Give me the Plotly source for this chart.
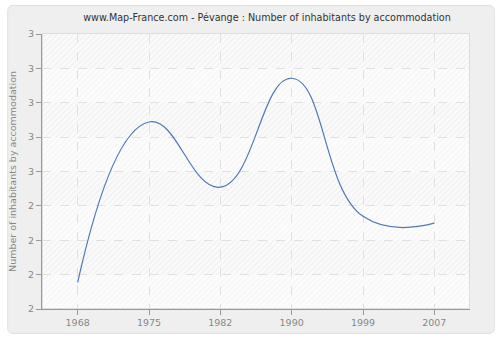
import base64
import plotly.graph_objects as go

years = ["1968", "1975", "1982", "1990", "1999", "2007"]
values = [2.097, 2.680, 2.443, 2.839, 2.337, 2.312]
y_ticks = [2.0, 2.125, 2.25, 2.375, 2.5, 2.625, 2.75, 2.875, 3.0]
y_tick_labels = ["2", "2", "2", "2", "3", "3", "3", "3", "3"]

title = "www.Map-France.com - Pévange : Number of inhabitants by accommodation"
ytitle = "Number of inhabitants by accommodation"

W, H = 500, 340
L, R, T, B = 40, 30, 34, 30
pw, ph = W - L - R, H - T - B

# panel box (page pixels)
PX0, PY0, PX1, PY1 = 5, 5, 495, 335
iw, ih = PX1 - PX0, PY1 - PY0
ax0, ay0 = L - PX0, T - PY0  # plot area origin inside the image

nb = len(y_ticks) - 1
bh = ph / nb
bands = "".join(
    f'<rect x="{ax0}" y="{ay0 + i * bh:.2f}" width="{pw}" height="{bh:.2f}" fill="url(#hs)"/>'
    for i in range(0, nb, 2)
)
svg = f'''<svg xmlns="http://www.w3.org/2000/svg" width="{iw}" height="{ih}" viewBox="0 0 {iw} {ih}">
<defs>
<pattern id="hw" width="4" height="4" patternUnits="userSpaceOnUse" patternTransform="rotate(45)">
<rect width="4" height="4" fill="#fcfcfc"/><line x1="0" y1="0" x2="0" y2="4" stroke="#f1f1f1" stroke-width="1.2"/>
</pattern>
<pattern id="hs" width="4" height="4" patternUnits="userSpaceOnUse" patternTransform="rotate(45)">
<rect width="4" height="4" fill="#fafafa"/><line x1="0" y1="0" x2="0" y2="4" stroke="#e9e9e9" stroke-width="1.3"/>
</pattern>
</defs>
<rect x="0.5" y="0.5" width="{iw - 1}" height="{ih - 1}" rx="5" ry="5" fill="#efefef" stroke="#dddddd" stroke-width="1"/>
<rect x="{ax0}" y="{ay0}" width="{pw}" height="{ph}" fill="url(#hw)"/>
{bands}
<rect x="{ax0 + 0.5}" y="{ay0 - 0.5}" width="{pw - 1}" height="{ph}" fill="none" stroke="#dedede" stroke-width="1"/>
</svg>'''
bg_uri = "data:image/svg+xml;base64," + base64.b64encode(svg.encode()).decode()

fig = go.Figure()
fig.add_trace(go.Scatter(
    x=years, y=values, mode="lines",
    line=dict(color="#4f79b4", width=1.2, shape="spline", smoothing=1.3),
    hoverinfo="skip", showlegend=False,
))

font = "DejaVu Sans"
fig.update_layout(
    width=W, height=H,
    margin=dict(l=L, r=R, t=T, b=B),
    paper_bgcolor="#ffffff",
    plot_bgcolor="rgba(0,0,0,0)",
    title=dict(text=title, x=267 / W, xanchor="center", xref="container",
               y=1 - 18 / H, yanchor="middle",
               font=dict(family=font, size=9.6, color="#333333")),
    font=dict(family=font, size=10, color="#888888"),
    xaxis=dict(
        type="category", range=[-0.5, 5.5],
        showline=True, linecolor="#999999", linewidth=1,
        ticks="outside", ticklen=5, tickcolor="#999999",
        showgrid=True, gridcolor="#e0e0e0", griddash="dash", gridwidth=1,
        tickfont=dict(family=font, size=9.5, color="#888888"),
        zeroline=False, fixedrange=True,
    ),
    yaxis=dict(
        range=[2.0, 3.0],
        tickvals=y_ticks, ticktext=y_tick_labels,
        showline=True, linecolor="#999999", linewidth=1,
        ticks="outside", ticklen=5, tickcolor="#999999",
        showgrid=True, gridcolor="#e0e0e0", griddash="dash", gridwidth=1,
        tickfont=dict(family=font, size=9.5, color="#888888"),
        title=dict(text=ytitle, font=dict(family=font, size=9.5, color="#888888"), standoff=9),
        zeroline=False, fixedrange=True,
    ),
    images=[dict(
        source=bg_uri, xref="paper", yref="paper",
        x=(PX0 - L) / pw, y=(H - B - PY0) / ph,
        sizex=iw / pw, sizey=ih / ph,
        xanchor="left", yanchor="top", sizing="stretch", layer="below",
    )],
)

fig.write_html("out.html", config={"displayModeBar": False},
               post_script="document.body.style.margin='0';")
